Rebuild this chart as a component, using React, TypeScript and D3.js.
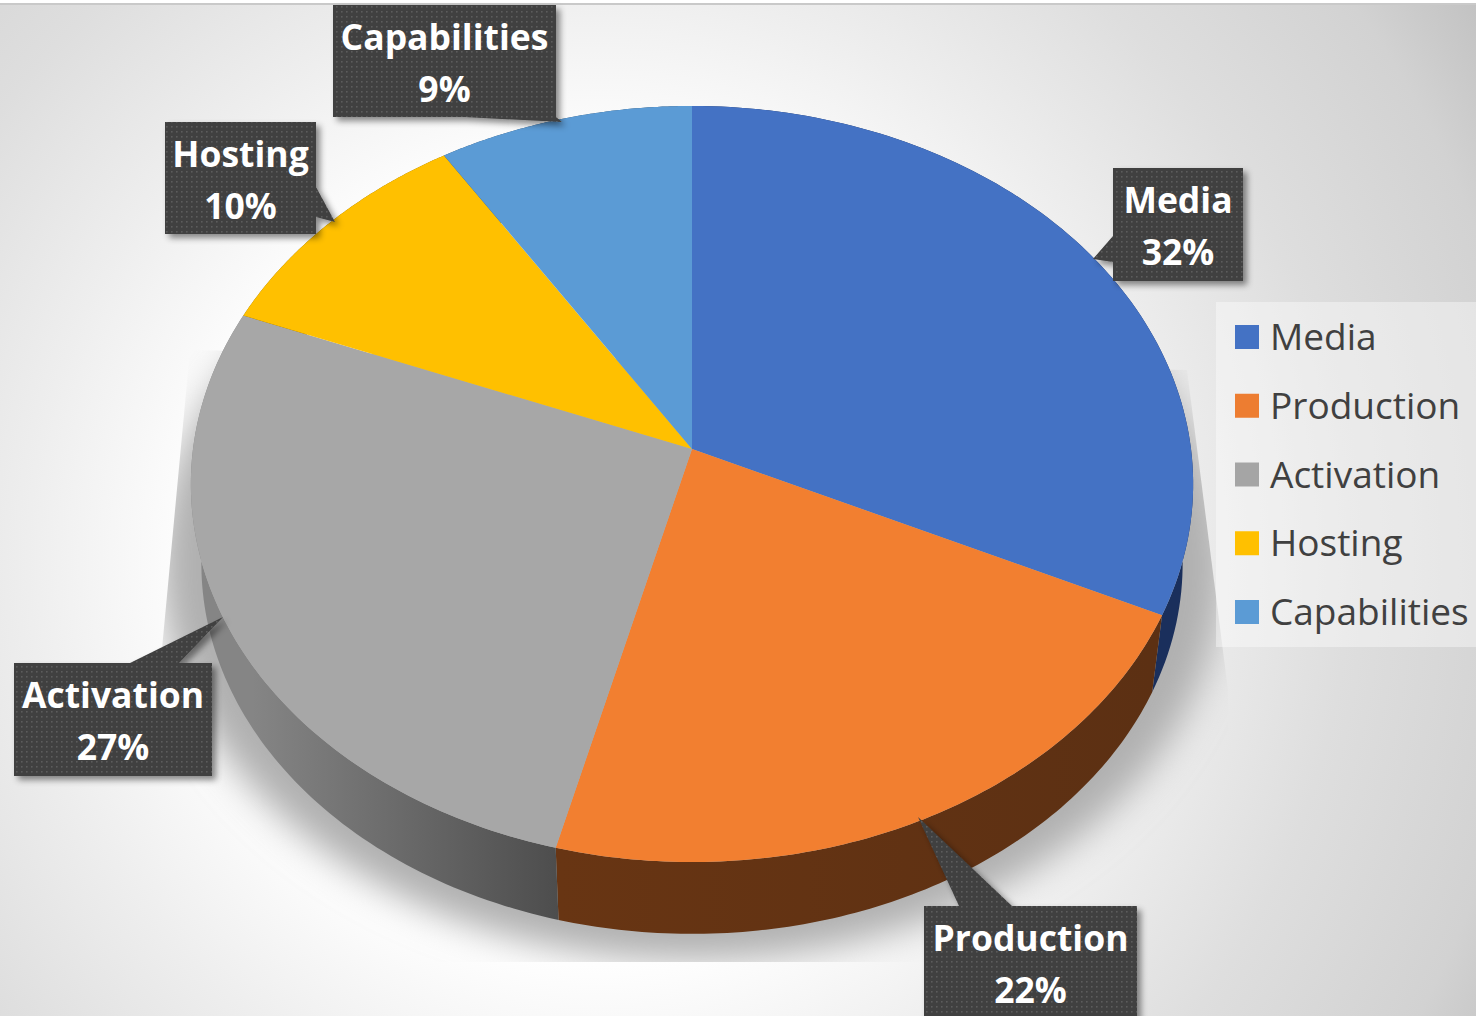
import React from "react";
import * as d3 from "d3";

// Budget split drawn as a tilted pie with a solid side wall.
const categories = ["Media", "Production", "Activation", "Hosting", "Capabilities"];
const shares = [32, 22, 27, 10, 9];
const faceColors = ["#4472C4", "#F27F30", "#A7A7A7", "#FFC000", "#5B9BD5"];
const legendColors = ["#4472C4", "#ED7D31", "#A5A5A5", "#FFC000", "#5B9BD5"];
const wallStops = [
  ["#1a2f5c", "#1a2f5c"],
  ["#683513", "#5c3013"],
  ["#858585", "#4d4d4d"],
  ["#7f6000", "#7f6000"],
  ["#2e4e6b", "#2e4e6b"],
];

// Callout boxes: x0, y0, x1, y1, then the pointer tip and its two base points.
const calloutBoxes = [
  [1113, 168, 1243, 281],
  [924, 906, 1137, 1020],
  [14, 663, 212, 776],
  [165, 122, 316, 234],
  [333, 5, 556, 117],
];
const calloutPointers = [
  [[1113, 236], [1093, 259], [1113, 262]],
  [[959, 906], [918, 817], [1012, 906]],
  [[130, 663], [223, 617], [179, 663]],
  [[316, 187], [335, 222], [316, 217]],
  [[463, 117], [562, 122], [556, 117]],
];

const WIDTH = 1476;
const HEIGHT = 1016;
const FONT = "'Open Sans', 'Noto Sans', sans-serif";

// Perspective projection of the unit disc onto the screen.
const CX = 692;
const CY = 449;
const TILT = 0.0926;
const project = (u: number, v: number, level = 0): [number, number] => {
  const d = 1 - TILT * v;
  const s = 1 - 0.021 * level;
  return [CX + (s * 499 * u) / d, CY + 73 * level + (s * 374.8 * v) / d + 7.5 * level];
};
const onRim = (angle: number, level = 0) => project(Math.sin(angle), -Math.cos(angle), level);

const arcs = d3.pie<number>().sort(null).startAngle(0).endAngle(2 * Math.PI)(shares);
const line = d3.line();
const rimPoints = (a0: number, a1: number, level: number) =>
  d3.range(0, 97).map((i) => onRim(a0 + ((a1 - a0) * i) / 96, level));

const facePath = (a0: number, a1: number) =>
  line([[CX, CY], ...rimPoints(a0, a1, 0)] as [number, number][]) + "Z";
const wallPath = (a0: number, a1: number) =>
  line([...rimPoints(a0, a1, 0), ...rimPoints(a0, a1, 1).reverse()]) + "Z";

const shadowPath = line(
  d3.range(0, 181).map((i) => {
    const t = (i / 180) * 2 * Math.PI;
    return [692 + 532 * Math.cos(t), 565 + 396 * Math.sin(t)] as [number, number];
  })
) + "Z";

export default function App() {
  const legendY = d3.scalePoint<string>().domain(categories).range([337, 612]);
  return (
    <svg
      width={WIDTH}
      height={HEIGHT}
      viewBox={`0 0 ${WIDTH} ${HEIGHT}`}
      style={{ position: "absolute", left: 0, top: 0, display: "block" }}
    >
      <defs>
        <radialGradient id="page" gradientUnits="userSpaceOnUse" cx={600} cy={560} r={1040}>
          <stop offset="0.38" stopColor="#ffffff" />
          <stop offset="0.55" stopColor="#eeeeee" />
          <stop offset="0.72" stopColor="#dedede" />
          <stop offset="0.9" stopColor="#d2d2d2" />
          <stop offset="1" stopColor="#c2c2c2" />
        </radialGradient>
        <filter id="soft" x="-20%" y="-20%" width="140%" height="140%">
          <feGaussianBlur stdDeviation="18" />
        </filter>
        <filter id="boxShadow" x="-10%" y="-10%" width="125%" height="125%">
          <feDropShadow dx="4" dy="4" stdDeviation="3" floodColor="#000" floodOpacity="0.45" />
        </filter>
        <pattern id="dots" width="5" height="5" patternUnits="userSpaceOnUse">
          <rect width="5" height="5" fill="#3f3f3f" />
          <rect x="1" y="1" width="1.6" height="1.6" fill="#5c5c5c" />
        </pattern>
        <clipPath id="shadowClip">
          <polygon points="190,350 160,670 160,962 1228,962 1228,690 1187,370" />
        </clipPath>
        {wallStops.map((s, i) => (
          <linearGradient key={i} id={`wall${i}`} gradientUnits="userSpaceOnUse"
            x1={Math.min(onRim(arcs[i].startAngle, 1)[0], onRim(arcs[i].endAngle, 1)[0])} y1={0}
            x2={Math.max(onRim(arcs[i].startAngle, 1)[0], onRim(arcs[i].endAngle, 1)[0])} y2={0}>
            <stop offset="0" stopColor={s[0]} />
            <stop offset="1" stopColor={s[1]} />
          </linearGradient>
        ))}
      </defs>

      <rect width={WIDTH} height={HEIGHT} fill="url(#page)" />
      <rect width={WIDTH} height={3} fill="#ffffff" />
      <rect y={3} width={WIDTH} height={2} fill="#c9c9c9" />

      <g clipPath="url(#shadowClip)">
        <path d={shadowPath} fill="#b0b0b0" filter="url(#soft)" />
      </g>

      <rect x={1216} y={302} width={260} height={345} fill="#ffffff" opacity={0.4} />

      {arcs.map((a, i) => (
        <path key={i} d={wallPath(a.startAngle, a.endAngle)} fill={`url(#wall${i})`} />
      ))}
      {arcs.map((a, i) => (
        <path key={i} d={facePath(a.startAngle, a.endAngle)} fill={faceColors[i]} />
      ))}

      {categories.map((c, i) => (
        <g key={c}>
          <rect x={1235} y={legendY(c)! - 12} width={24} height={24} fill={legendColors[i]} />
          <text x={1270} y={legendY(c)! + 13} fontFamily={FONT} fontSize={37} fill="#404040">
            {c}
          </text>
        </g>
      ))}

      {categories.map((c, i) => {
        const [x0, y0, x1, y1] = calloutBoxes[i];
        const [b0, tip, b1] = calloutPointers[i];
        const mid = (x0 + x1) / 2;
        // Walk the box outline and splice the pointer into the edge it leaves from.
        const outline: [number, number][] =
          b0[1] === y0
            ? [[x0, y0], b0, tip, b1, [x1, y0], [x1, y1], [x0, y1]]
            : b0[1] === y1 || b1[1] === y1
              ? [[x0, y0], [x1, y0], [x1, y1], b1, tip, b0, [x0, y1]]
              : b0[0] === x1
                ? [[x0, y0], [x1, y0], b0, tip, b1, [x1, y1], [x0, y1]]
                : [[x0, y0], [x1, y0], [x1, y1], [x0, y1], b1, tip, b0];
        return (
          <g key={c}>
            <path d={line(outline) + "Z"} fill="url(#dots)" filter="url(#boxShadow)" />
            <text x={mid} y={y0 + 45} textAnchor="middle" fontFamily={FONT} fontWeight={700}
              fontSize={35.5} fill="#ffffff">
              {c}
            </text>
            <text x={mid} y={y0 + 97} textAnchor="middle" fontFamily={FONT} fontWeight={700}
              fontSize={35.5} fill="#ffffff">
              {`${shares[i]}%`}
            </text>
          </g>
        );
      })}
    </svg>
  );
}
